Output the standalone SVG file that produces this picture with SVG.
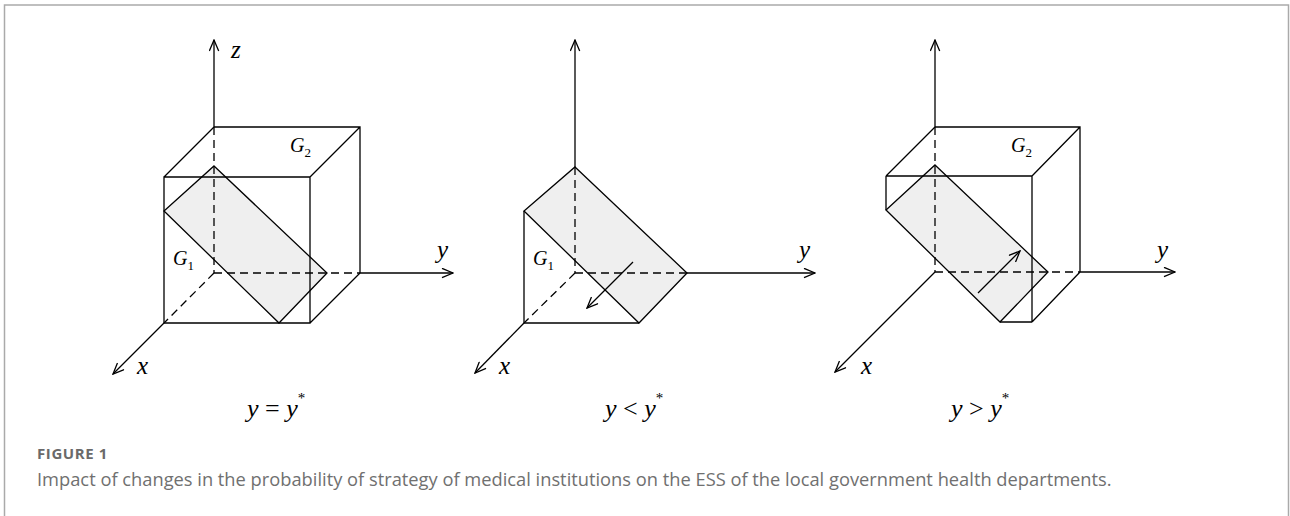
<svg xmlns="http://www.w3.org/2000/svg" width="1290" height="516" viewBox="0 0 1290 516">
<defs>
<marker id="arr" viewBox="0 0 13 11" refX="12" refY="5.5" markerWidth="13" markerHeight="11" markerUnits="userSpaceOnUse" orient="auto">
<path d="M1,0.8 L12,5.5 L1,10.2" fill="none" stroke="#000" stroke-width="1.3"/>
</marker>
<style>
.ln{stroke:#000;stroke-width:1.3;fill:none}
.ds{stroke:#000;stroke-width:1.3;fill:none;stroke-dasharray:8,5}
.sh{fill:#efefef;stroke:none}
.m{font-family:"Liberation Serif","Times New Roman",serif;font-style:italic;fill:#000}
.ax{font-size:25px}
.g{font-size:20px}
.sub{font-size:13px;font-style:normal}
.cap{font-family:"Liberation Serif","Times New Roman",serif;font-size:26px;fill:#000}
.fig{font-family:"Open Sans","Noto Sans",sans-serif;font-size:15px;font-weight:bold;letter-spacing:0.6px;fill:#6a6a6a}
.txt{font-family:"Open Sans","Noto Sans",sans-serif;font-size:18.3px;fill:#707070}
</style>
</defs>
<rect width="1290" height="516" fill="#fff"/>
<path d="M4.5,520 V5 H1288.5 V520" fill="none" stroke="#aaaaaa" stroke-width="1.5"/>

<g id="panel1">
<polygon class="sh" points="214,166 327,273 279,323 164,211"/>
<g id="connectors1">
<path class="ln" d="M214,127 V40" marker-end="url(#arr)"/>
<path class="ds" d="M214,127 V273"/>
<path class="ds" d="M214,273 H360"/>
<path class="ln" d="M360,273 H453" marker-end="url(#arr)"/>
<path class="ds" d="M214,273 L164,323"/>
<path class="ln" d="M164,323 L113,374" marker-end="url(#arr)"/>
</g>
<g id="cube1">
<path class="ln" d="M214,127 H360 V273 M164,177 H310 V323 H164 Z M214,127 L164,177 M360,127 L310,177 M360,273 L310,323"/>
<polygon class="ln" points="214,166 327,273 279,323 164,211"/>
</g>
<text class="m ax" x="231" y="58">z</text>
<text class="m ax" x="437" y="258">y</text>
<text class="m ax" x="137" y="374">x</text>
<text class="m g" x="290" y="152">G<tspan class="sub" dy="5">2</tspan></text>
<text class="m g" x="173" y="265">G<tspan class="sub" dy="5">1</tspan></text>
</g>

<g id="panel2">
<polygon class="sh" points="575,167 687,273 639,323 524,211"/>
<g id="connectors2">
<path class="ln" d="M575,167 V40" marker-end="url(#arr)"/>
<path class="ds" d="M575,167 V273"/>
<path class="ds" d="M575,273 H687"/>
<path class="ln" d="M687,273 H815" marker-end="url(#arr)"/>
<path class="ds" d="M575,273 L524,323"/>
<path class="ln" d="M524,323 L475,373" marker-end="url(#arr)"/>
<path class="ln" d="M633,262 L587,308" marker-end="url(#arr)"/>
</g>
<g id="prism2">
<polygon class="ln" points="575,167 687,273 639,323 524,211"/>
<path class="ln" d="M524,211 V323 H639"/>
</g>
<text class="m ax" x="799" y="258">y</text>
<text class="m ax" x="499" y="374">x</text>
<text class="m g" x="533" y="265">G<tspan class="sub" dy="5">1</tspan></text>
</g>

<g id="panel3">
<polygon class="sh" points="935,165 1048,272 1000,322 886,210"/>
<g id="connectors3">
<path class="ln" d="M935,127 V40" marker-end="url(#arr)"/>
<path class="ds" d="M935,127 V272"/>
<path class="ds" d="M935,272 H1080"/>
<path class="ln" d="M1080,272 H1175" marker-end="url(#arr)"/>
<path class="ln" d="M935,272 L835,372" marker-end="url(#arr)"/>
<path class="ln" d="M978,293 L1020,251" marker-end="url(#arr)"/>
</g>
<g id="cube3">
<path class="ln" d="M935,127 H1080 V272 M935,127 L886,176 M1080,127 L1032,176 M886,176 H1032 V322 M1080,272 L1032,322 M1000,322 H1032 M886,176 V210"/>
<polygon class="ln" points="935,165 1048,272 1000,322 886,210"/>
</g>
<text class="m ax" x="1157" y="258">y</text>
<text class="m ax" x="861" y="374">x</text>
<text class="m g" x="1011" y="152">G<tspan class="sub" dy="5">2</tspan></text>
</g>

<g id="labels">
<text class="cap" x="247" y="417"><tspan font-style="italic">y</tspan> = <tspan font-style="italic">y</tspan><tspan font-size="15" dy="-14">*</tspan></text>
<text class="cap" x="605" y="417"><tspan font-style="italic">y</tspan> &lt; <tspan font-style="italic">y</tspan><tspan font-size="15" dy="-14">*</tspan></text>
<text class="cap" x="951" y="417"><tspan font-style="italic">y</tspan> &gt; <tspan font-style="italic">y</tspan><tspan font-size="15" dy="-14">*</tspan></text>
</g>

<text class="fig" x="37" y="459">FIGURE 1</text>
<text class="txt" x="37" y="486">Impact of changes in the probability of strategy of medical institutions on the ESS of the local government health departments.</text>
</svg>
